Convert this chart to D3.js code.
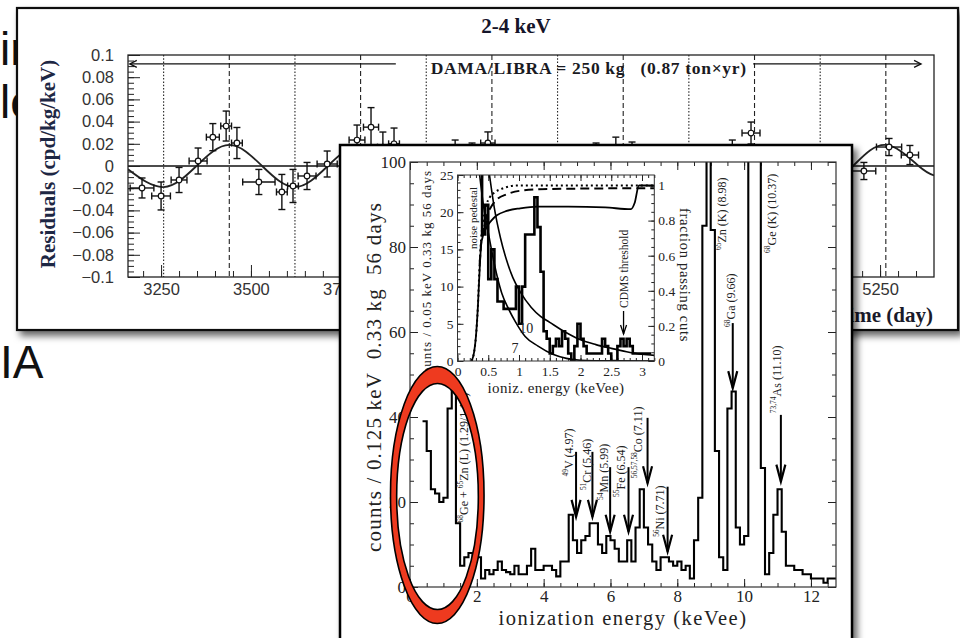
<!DOCTYPE html>
<html><head><meta charset="utf-8">
<script src="https://cdn.jsdelivr.net/npm/d3@7/dist/d3.min.js"></script>
<style>
html,body{margin:0;padding:0;background:#fff;}
svg{display:block;}
text{white-space:pre;}
</style></head>
<body>
<svg id="chart" width="960" height="638" xmlns="http://www.w3.org/2000/svg"></svg>
<script>
// ================= DATA =================
const slideText = ["ir", "lo", "IA"];

// --- DAMA/LIBRA residuals panel ---
const damaTitle = "2-4 keV";
const damaExposure = "DAMA/LIBRA = 250 kg   (0.87 ton\u00d7yr)";
const damaYLabel = "Residuals (cpd/kg/keV)";
const damaXLabel = "Time (day)";
const damaXTicks = [3250, 3500, 3750, 4000, 4250, 4500, 4750, 5000, 5250];
const damaYTicks = [-0.1, -0.08, -0.06, -0.04, -0.02, 0, 0.02, 0.04, 0.06, 0.08, 0.1];
const damaDays   = [3197, 3250, 3300, 3353, 3394, 3431, 3461, 3522, 3586, 3617, 3656, 3712, 3795, 3834, 3867, 3898, 4068, 4115, 4159, 4460, 4515, 4560, 4839, 4891, 5205, 5275, 5333];
const damaResid  = [-0.0198, -0.027, -0.0126, 0.0045, 0.026, 0.036, 0.0207, -0.0144, -0.0234, -0.018, -0.009, 0.0018, 0.0234, 0.035, 0.017, 0.02, 0.011, 0.008, 0.0207, 0.008, 0.013, 0.009, 0.011, 0.0297, -0.0045, 0.0171, 0.0099];
const damaDayErr = [33, 26, 22, 25, 18, 15, 15, 45, 15, 15, 25, 28, 22, 21, 15, 15, 20, 20, 20, 20, 15, 15, 20, 25, 33, 35, 24];
const damaResErr = [0.009, 0.0126, 0.0113, 0.0117, 0.0122, 0.0135, 0.014, 0.0113, 0.0158, 0.0149, 0.0122, 0.0117, 0.0135, 0.0176, 0.0136, 0.0142, 0.0124, 0.0127, 0.010, 0.0127, 0.013, 0.0126, 0.0124, 0.0099, 0.0077, 0.0077, 0.0086];
const damaMaxDays = [3439.75, 3805, 4170.25, 4535.5, 4900.75, 5266];
const damaMinDays = [3257.1, 3622.4, 3987.6, 4352.9, 4718.1, 5083.4];
const damaFitDays = [3158, 3257.1, 3348.4, 3439.75, 3531.1, 3622.4, 3713.7, 3805, 3896.3, 3987.6, 4078.9, 4170.25, 4261.6, 4352.9, 4444.2, 4535.5, 4626.8, 4718.1, 4809.4, 4900.75, 4992.1, 5083.4, 5174.7, 5266, 5357.3, 5400];
const damaFitVals = [-0.003, -0.019, 0, 0.019, 0, -0.019, 0, 0.019, 0, -0.019, 0, 0.019, 0, -0.019, 0, 0.019, 0, -0.019, 0, 0.019, 0, -0.019, 0, 0.019, 0, -0.0085];
const damaPeriodArrowLevel = 0.092;
const damaPeriodSpan = [3163, 5364];
const damaPeriodGap = [3903, 4897];
const damaExposureDay = 4000;

// --- CoGeNT spectrum panel ---
const specXLabel = "ionization energy (keVee)";
const specYLabel = "counts / 0.125 keV  0.33 kg  56 days";
const specXTicks = [0, 2, 4, 6, 8, 10, 12];
const specYTicks = [0, 20, 40, 60, 80, 100];
const specBinStart = 0.375, specBinWidth = 0.125;
const specCounts = [39, 32, 23, 22, 20, 21, 42, 48, 15, 5,
  7, 8, 6, 7, 2, 4, 3, 4, 6, 4,
  3.5, 3, 5, 3, 3, 5, 9, 4, 4, 5,
  5, 4, 2.5, 6, 6, 17, 11, 8, 11, 12,
  15, 15, 10, 8, 12, 11, 9, 6, 6, 11,
  6, 14, 23, 14, 10, 6, 4, 7, 7, 6,
  5, 6, 4, 5, 2, 11, 21, 85, 150, 84,
  32, 7, 4, 42, 46, 14, 10, 12, 150, 150,
  150, 28, 3, 8, 17, 23, 13, 5, 5, 4,
  4, 3, 3, 2, 2, 2, 1, 2, 2];

const lineIsotope = ["49", "51", "54", "55", "56,57,58", "56", "68", "73,74"];
const lineElement = ["V", "Cr", "Mn", "Fe", "Co", "Ni", "Ga", "As"];
const lineEnergy  = [4.97, 5.46, 5.99, 6.54, 7.11, 7.71, 9.66, 11.10];
const lineEnergyText = ["(4.97)", "(5.46)", "(5.99)", "(6.54)", "(7.11)", "(7.71)", "(9.66)", "(11.10)"];
// annotation layout (in count units) for arrows / labels
const arrowFromCount = [31.8, 31.8, 28.2, 28.2, 39.8, 23.6, 62.1, 40.5];
const arrowToCount   = [16.5, 16.5, 13.0, 13.0, 24.4, 8.3, 46.8, 24.8];
const labelBaseCount = [26.0, 22.8, 20.5, 21.2, 25.6, 11.8, 61.2, 40.9];
const labelShiftPx   = [-7, -5.7, -6.5, -8, -9.5, -7.3, -1.7, -3.7];

const kLines = [
  {parts: [["65", true], ["Zn (K) (8.98)", false]], energy: 9.33, base: 79.3},
  {parts: [["68", true], ["Ge (K) (10.37)", false]], energy: 10.82, base: 78.6},
  {parts: [["68", true], ["Ge + ", false], ["65", true], ["Zn (L) (1.29/1.10)", false]], energy: 1.63, base: 15.2}
];

// highlight ellipse (data units: keV, counts)
const ringOuter = {e: 0.816, c: 21.65, re: 1.40, rc: 30.2};
const ringInner = {e: 0.823, c: 21.3, re: 1.222, rc: 26.6};

// --- inset ---
const insetXLabel = "ioniz. energy (keVee)";
const insetYLabel = "counts / 0.05 keV 0.33 kg 56 days";
const insetY2Label = "fraction passing cuts";
const insetXTicks = [0, 0.5, 1, 1.5, 2, 2.5, 3];
const insetYTicks = [0, 5, 10, 15, 20, 25];
const insetFTicks = [0, 0.2, 0.4, 0.6, 0.8, 1];
const insetBinStart = 0.35, insetBinWidth = 0.05;
const insetCounts = [30, 17, 21, 11, 15, 11, 8, 8, 7, 7,
  7, 7, 10, 5, 10, 17, 17, 17, 22, 18,
  12, 4, 3, 1, 2, 3, 2, 4, 3, 1,
  0, 2, 5, 3, 2, 1, 1, 1, 1, 1,
  3, 2, 1, 0, 0, 2, 3, 2, 3, 2,
  1, 1, 1, 1, 1, 1];
const curve7E  = [0.36, 0.42, 0.5, 0.6, 0.72, 0.83, 0.94, 1.1, 1.31, 1.55, 1.77, 2.0, 2.5, 3.2];
const curve7C  = [25, 21, 17.3, 13, 9.1, 7.0, 5.3, 3.3, 2.0, 0.9, 0.35, 0.1, 0.02, 0];
const curve10E = [0.52, 0.6, 0.7, 0.8, 0.9, 1.02, 1.2, 1.35, 1.5, 1.75, 2.0, 2.25, 2.5, 2.75, 3.0, 3.2];
const curve10C = [25, 20.5, 16.5, 13.5, 11.2, 9.3, 7.2, 6.0, 5.2, 3.9, 2.85, 2.2, 1.7, 1.25, 0.9, 0.75];
const fracSolidE = [0.23, 0.27, 0.3, 0.33, 0.36, 0.39, 0.47, 0.55, 0.64, 0.8, 1.02, 1.3, 1.8, 2.4, 2.82, 2.88, 2.95, 3.2];
const fracSolidF = [0, 0.05, 0.14, 0.3, 0.52, 0.68, 0.76, 0.8, 0.83, 0.855, 0.87, 0.88, 0.88, 0.875, 0.865, 0.9, 1.0, 1.0];
const fracDotE = [0.23, 0.27, 0.3, 0.33, 0.36, 0.39, 0.42, 0.47, 0.52, 0.6, 0.75, 0.96, 3.2];
const fracDotF = [0, 0.05, 0.14, 0.3, 0.55, 0.72, 0.8, 0.89, 0.93, 0.96, 0.985, 1.0, 1.0];
const fracDashE = [0.36, 0.39, 0.42, 0.47, 0.55, 0.64, 0.8, 1.02, 1.5, 3.2];
const fracDashF = [0.55, 0.69, 0.74, 0.82, 0.88, 0.92, 0.95, 0.97, 0.98, 0.985];
const cdmsThresholdE = 2.7;

// ================= DRAW =================
const svg = d3.select("#chart");
const defs = svg.append("defs");
const sh = defs.append("filter").attr("id", "shadow").attr("x", -0.05).attr("y", -0.05).attr("width", 1.15).attr("height", 1.15);
sh.append("feDropShadow").attr("dx", 4).attr("dy", 5).attr("stdDeviation", 3.5).attr("flood-color", "#000").attr("flood-opacity", 0.6);

function fitWidth(sel, target) {
  const n = sel.node();
  const len = n.getComputedTextLength();
  const k = n.textContent.length;
  if (k > 1) sel.attr("letter-spacing", ((target - len) / k).toFixed(3));
  return sel;
}

// background slide text
const slide = svg.append("g").attr("font-family", "'Liberation Sans', Arial, sans-serif").attr("font-size", 46).attr("fill", "#111");
slide.append("text").attr("x", 0).attr("y", 65).text(slideText[0]);
slide.append("text").attr("x", 0).attr("y", 118).text(slideText[1]);
slide.append("text").attr("x", 0).attr("y", 378).text(slideText[2]);

function styleAxis(g, size, family, color) {
  g.select(".domain").remove();
  g.attr("font-size", null).attr("font-family", null);
  g.selectAll("line").attr("stroke", "#222").attr("stroke-width", 1);
  g.selectAll("text").attr("font-size", size).attr("font-family", family).attr("fill", color);
  return g;
}

// ---------- DAMA panel ----------
const dp = svg.append("g");
dp.append("rect").attr("x", 17).attr("y", 8).attr("width", 941).attr("height", 322)
  .attr("fill", "#fff").attr("stroke", "#111").attr("stroke-width", 2.2).attr("filter", "url(#shadow)");
const dx = d3.scaleLinear().domain([3158, 5400]).range([128, 934]);
const dy = d3.scaleLinear().domain([-0.1, 0.1]).range([277, 55]);
defs.append("clipPath").attr("id", "damaClip").append("rect").attr("x", 128).attr("y", 55).attr("width", 806).attr("height", 222);

dp.append("g").selectAll("line").data(damaMaxDays).join("line")
  .attr("x1", d => dx(d)).attr("x2", d => dx(d)).attr("y1", dy(0.1)).attr("y2", dy(-0.1))
  .attr("stroke", "#222").attr("stroke-width", 1.1).attr("stroke-dasharray", "5,3");
dp.append("g").selectAll("line").data(damaMinDays).join("line")
  .attr("x1", d => dx(d)).attr("x2", d => dx(d)).attr("y1", dy(0.1)).attr("y2", dy(-0.1))
  .attr("stroke", "#222").attr("stroke-width", 1.1).attr("stroke-dasharray", "1.5,1.8");
dp.append("line").attr("x1", dx(3158)).attr("x2", dx(5400)).attr("y1", dy(0)).attr("y2", dy(0)).attr("stroke", "#111").attr("stroke-width", 1.4);

const dSans = "'Liberation Sans', Arial, sans-serif";
styleAxis(dp.append("g").attr("transform", "translate(128,0)").call(
  d3.axisLeft(dy).tickValues(damaYTicks).tickSize(-12).tickSizeOuter(0).tickPadding(14)
    .tickFormat(d => Math.abs(d) < 1e-9 ? "0" : d3.format(".2~f")(d))), 16.5, dSans, "#333");
styleAxis(dp.append("g").attr("transform", "translate(128,0)").call(
  d3.axisLeft(dy).tickValues(d3.range(-0.1, 0.1001, 0.005)).tickSize(-6).tickSizeOuter(0).tickFormat("")), 10, dSans, "#333");
styleAxis(dp.append("g").attr("transform", "translate(0,277)").call(
  d3.axisBottom(dx).tickValues(damaXTicks).tickSize(-12).tickSizeOuter(0).tickPadding(6).tickFormat(d3.format("d"))), 16.5, dSans, "#333");
styleAxis(dp.append("g").attr("transform", "translate(0,277)").call(
  d3.axisBottom(dx).tickValues(d3.range(3200, 5400, 50)).tickSize(-6).tickSizeOuter(0).tickFormat("")), 10, dSans, "#333");
dp.append("rect").attr("x", 128).attr("y", 55).attr("width", 806).attr("height", 222).attr("fill", "none").attr("stroke", "#222").attr("stroke-width", 1.3);

const fitPts = damaFitDays.map((d, i) => [d, damaFitVals[i]]);
dp.append("path").attr("clip-path", "url(#damaClip)").attr("d", d3.line().x(d => dx(d[0])).y(d => dy(d[1])).curve(d3.curveNatural)(fitPts))
  .attr("fill", "none").attr("stroke", "#222").attr("stroke-width", 1.8);

const pts = damaDays.map((d, i) => ({d, v: damaResid[i], de: damaDayErr[i], ve: damaResErr[i]}));
const eb = dp.append("g").attr("stroke", "#111").attr("stroke-width", 1.4);
pts.forEach(p => {
  const x = dx(p.d), y = dy(p.v), y1 = dy(p.v - p.ve), y2 = dy(p.v + p.ve), x1 = dx(p.d - p.de), x2 = dx(p.d + p.de);
  eb.append("line").attr("x1", x).attr("x2", x).attr("y1", y1).attr("y2", y2);
  eb.append("line").attr("x1", x - 3.5).attr("x2", x + 3.5).attr("y1", y1).attr("y2", y1);
  eb.append("line").attr("x1", x - 3.5).attr("x2", x + 3.5).attr("y1", y2).attr("y2", y2);
  eb.append("line").attr("x1", x1).attr("x2", x2).attr("y1", y).attr("y2", y);
  eb.append("line").attr("x1", x1).attr("x2", x1).attr("y1", y - 3.5).attr("y2", y + 3.5);
  eb.append("line").attr("x1", x2).attr("x2", x2).attr("y1", y - 3.5).attr("y2", y + 3.5);
});
dp.append("g").selectAll("circle").data(pts).join("circle")
  .attr("cx", p => dx(p.d)).attr("cy", p => dy(p.v)).attr("r", 2.8)
  .attr("fill", "#fff").attr("stroke", "#111").attr("stroke-width", 1.2);

// period arrow
const ay = dy(damaPeriodArrowLevel);
const arr = dp.append("g").attr("stroke", "#111").attr("stroke-width", 1.3).attr("fill", "none");
arr.append("line").attr("x1", dx(damaPeriodSpan[0])).attr("x2", dx(damaPeriodGap[0])).attr("y1", ay).attr("y2", ay);
arr.append("path").attr("d", `M${dx(damaPeriodSpan[0]) + 7},${ay - 3.5}L${dx(damaPeriodSpan[0])},${ay}L${dx(damaPeriodSpan[0]) + 7},${ay + 3.5}`);
arr.append("line").attr("x1", dx(damaPeriodGap[1])).attr("x2", dx(damaPeriodSpan[1])).attr("y1", ay).attr("y2", ay);
arr.append("path").attr("d", `M${dx(damaPeriodSpan[1]) - 7},${ay - 3.5}L${dx(damaPeriodSpan[1])},${ay}L${dx(damaPeriodSpan[1]) - 7},${ay + 3.5}`);

const dSerif = "'Liberation Serif', 'Times New Roman', serif";
fitWidth(dp.append("text").attr("x", dx(damaExposureDay)).attr("y", ay + 10).attr("font-family", dSerif).attr("font-weight", "bold")
  .attr("font-size", 17.5).attr("fill", "#1a1a22").text(damaExposure), 316);
dp.append("text").attr("x", 516).attr("y", 33).attr("text-anchor", "middle").attr("font-family", dSerif).attr("font-weight", "bold")
  .attr("font-size", 21).attr("fill", "#15152a").text(damaTitle);
dp.append("text").attr("transform", "translate(55,164) rotate(-90)").attr("text-anchor", "middle").attr("font-family", dSerif)
  .attr("font-weight", "bold").attr("font-size", 21).attr("fill", "#1e2744").text(damaYLabel);
dp.append("text").attr("x", 933).attr("y", 322).attr("text-anchor", "end").attr("font-family", dSerif)
  .attr("font-weight", "bold").attr("font-size", 21).attr("fill", "#1a1a2a").text(damaXLabel);

// ---------- CoGeNT panel ----------
const cp = svg.append("g");
cp.append("rect").attr("x", 340).attr("y", 145).attr("width", 512).attr("height", 520)
  .attr("fill", "#fff").attr("stroke", "#000").attr("stroke-width", 2.5).attr("filter", "url(#shadow)");
const cSerif = "'Liberation Serif', 'Times New Roman', serif";
const mx = d3.scaleLinear().domain([0, 12.75]).range([410, 836]);
const my = d3.scaleLinear().domain([0, 100]).range([587, 162]);
defs.append("clipPath").attr("id", "mainClip").append("rect").attr("x", 410).attr("y", 162).attr("width", 426).attr("height", 425);

// ticks
styleAxis(cp.append("g").attr("transform", "translate(0,587)").call(
  d3.axisBottom(mx).tickValues(specXTicks).tickSize(-8).tickSizeOuter(0).tickPadding(3).tickFormat(d3.format("d"))), 17, cSerif, "#222");
styleAxis(cp.append("g").attr("transform", "translate(0,587)").call(
  d3.axisBottom(mx).tickValues(d3.range(0, 12.76, 0.5)).tickSize(-4).tickSizeOuter(0).tickFormat("")), 10, cSerif, "#222");
styleAxis(cp.append("g").attr("transform", "translate(0,162)").call(
  d3.axisTop(mx).tickValues(specXTicks).tickSize(-8).tickSizeOuter(0).tickFormat("")), 10, cSerif, "#222");
styleAxis(cp.append("g").attr("transform", "translate(0,162)").call(
  d3.axisTop(mx).tickValues(d3.range(0, 12.76, 0.5)).tickSize(-4).tickSizeOuter(0).tickFormat("")), 10, cSerif, "#222");
styleAxis(cp.append("g").attr("transform", "translate(410,0)").call(
  d3.axisLeft(my).tickValues(specYTicks).tickSize(-8).tickSizeOuter(0).tickPadding(4).tickFormat(d3.format("d"))), 17, cSerif, "#222");
styleAxis(cp.append("g").attr("transform", "translate(410,0)").call(
  d3.axisLeft(my).tickValues(d3.range(0, 101, 5)).tickSize(-4).tickSizeOuter(0).tickFormat("")), 10, cSerif, "#222");
styleAxis(cp.append("g").attr("transform", "translate(836,0)").call(
  d3.axisRight(my).tickValues(specYTicks).tickSize(-8).tickSizeOuter(0).tickFormat("")), 10, cSerif, "#222");
styleAxis(cp.append("g").attr("transform", "translate(836,0)").call(
  d3.axisRight(my).tickValues(d3.range(0, 101, 5)).tickSize(-4).tickSizeOuter(0).tickFormat("")), 10, cSerif, "#222");

// histogram
const specPts = specCounts.map((c, i) => [specBinStart + i * specBinWidth, c]);
specPts.push([specBinStart + specCounts.length * specBinWidth, specCounts[specCounts.length - 1]]);
cp.append("path").attr("clip-path", "url(#mainClip)")
  .attr("d", d3.line().x(d => mx(d[0])).y(d => my(d[1])).curve(d3.curveStepAfter)(specPts))
  .attr("fill", "none").attr("stroke", "#000").attr("stroke-width", 2.1);
cp.append("rect").attr("x", 410).attr("y", 162).attr("width", 426).attr("height", 425).attr("fill", "none").attr("stroke", "#333").attr("stroke-width", 1.2);

// axis labels
fitWidth(cp.append("text").attr("transform", "translate(381,377) rotate(-90)").attr("text-anchor", "middle")
  .attr("font-family", cSerif).attr("font-size", 21).attr("fill", "#222").text(specYLabel), 350);
fitWidth(cp.append("text").attr("x", 623).attr("y", 625).attr("text-anchor", "middle")
  .attr("font-family", cSerif).attr("font-size", 20.5).attr("fill", "#222").text(specXLabel), 249);

function rotLabel(g, x, y, parts, size, anchor, rot, color) {
  const t = g.append("text").attr("transform", `translate(${x},${y}) rotate(${rot})`)
    .attr("text-anchor", anchor).attr("font-family", cSerif).attr("font-size", size).attr("fill", color || "#222");
  let cur = 0;
  parts.forEach(([s, sup]) => {
    const ts = t.append("tspan").text(s);
    if (sup) { const target = -size * 0.42; ts.attr("font-size", size * 0.62).attr("dy", target - cur); cur = target; }
    else { ts.attr("dy", -cur); cur = 0; }
  });
  return t;
}
// peak labels with arrows
const ann = cp.append("g");
lineEnergy.forEach((e, i) => {
  const x = mx(e);
  const yf = my(arrowFromCount[i]), yt = my(arrowToCount[i]);
  ann.append("line").attr("x1", x).attr("x2", x).attr("y1", yf).attr("y2", yt).attr("stroke", "#000").attr("stroke-width", 2);
  ann.append("path").attr("d", `M${x - 4.5},${yt - 17}L${x},${yt}L${x + 4.5},${yt - 17}`).attr("fill", "none").attr("stroke", "#000").attr("stroke-width", 2.2);
  rotLabel(ann, x + labelShiftPx[i] + 4, my(labelBaseCount[i]),
    [[lineIsotope[i], true], [lineElement[i] + " " + lineEnergyText[i], false]], 12, "start", -90);
});
kLines.forEach(k => rotLabel(ann, mx(k.energy) + 4, my(k.base), k.parts, 12, "start", -90));

// ---------- inset ----------
const ix = d3.scaleLinear().domain([0, 3.2]).range([457.5, 654.3]);
const iy = d3.scaleLinear().domain([0, 25]).range([361, 175]);
const ifr = d3.scaleLinear().domain([0, 1]).range([361, 185.5]);
const ins = cp.append("g");
defs.append("clipPath").attr("id", "insetClip").append("rect").attr("x", 457.5).attr("y", 175).attr("width", 196.8).attr("height", 186);

styleAxis(ins.append("g").attr("transform", "translate(0,361)").call(
  d3.axisBottom(ix).tickValues(insetXTicks).tickSize(-6).tickSizeOuter(0).tickPadding(5).tickFormat(d3.format("~g"))), 13.5, cSerif, "#222");
styleAxis(ins.append("g").attr("transform", "translate(0,361)").call(
  d3.axisBottom(ix).tickValues(d3.range(0, 3.21, 0.1)).tickSize(-3).tickSizeOuter(0).tickFormat("")), 10, cSerif, "#222");
styleAxis(ins.append("g").attr("transform", "translate(0,175)").call(
  d3.axisTop(ix).tickValues(insetXTicks).tickSize(-6).tickSizeOuter(0).tickFormat("")), 10, cSerif, "#222");
styleAxis(ins.append("g").attr("transform", "translate(0,175)").call(
  d3.axisTop(ix).tickValues(d3.range(0, 3.21, 0.1)).tickSize(-3).tickSizeOuter(0).tickFormat("")), 10, cSerif, "#222");
styleAxis(ins.append("g").attr("transform", "translate(457.5,0)").call(
  d3.axisLeft(iy).tickValues(insetYTicks).tickSize(-6).tickSizeOuter(0).tickPadding(4).tickFormat(d3.format("d"))), 13.5, cSerif, "#222");
styleAxis(ins.append("g").attr("transform", "translate(457.5,0)").call(
  d3.axisLeft(iy).tickValues(d3.range(0, 25.1, 1)).tickSize(-3).tickSizeOuter(0).tickFormat("")), 10, cSerif, "#222");
styleAxis(ins.append("g").attr("transform", "translate(654.3,0)").call(
  d3.axisRight(ifr).tickValues(insetFTicks).tickSize(-6).tickSizeOuter(0).tickPadding(4).tickFormat(d3.format("~g"))), 13.5, cSerif, "#222");
styleAxis(ins.append("g").attr("transform", "translate(654.3,0)").call(
  d3.axisRight(ifr).tickValues(d3.range(0, 1.001, 0.05)).tickSize(-3).tickSizeOuter(0).tickFormat("")), 10, cSerif, "#222");

const insetPts = insetCounts.map((c, i) => [insetBinStart + i * insetBinWidth, c]);
insetPts.push([insetBinStart + insetCounts.length * insetBinWidth, insetCounts[insetCounts.length - 1]]);
const ic = ins.append("g").attr("clip-path", "url(#insetClip)");
const lineC = d3.line().x(d => ix(d[0])).y(d => iy(d[1])).curve(d3.curveMonotoneX);
const lineF = d3.line().x(d => ix(d[0])).y(d => ifr(d[1])).curve(d3.curveMonotoneX);
ic.append("path").attr("d", lineC(curve7E.map((e, i) => [e, curve7C[i]]))).attr("fill", "none").attr("stroke", "#000").attr("stroke-width", 1.6);
ic.append("path").attr("d", lineC(curve10E.map((e, i) => [e, curve10C[i]]))).attr("fill", "none").attr("stroke", "#000").attr("stroke-width", 1.6);
ic.append("path").attr("d", lineF(fracDotE.map((e, i) => [e, fracDotF[i]]))).attr("fill", "none").attr("stroke", "#000").attr("stroke-width", 2).attr("stroke-dasharray", "2,3");
ic.append("path").attr("d", lineF(fracDashE.map((e, i) => [e, fracDashF[i]]))).attr("fill", "none").attr("stroke", "#000").attr("stroke-width", 2).attr("stroke-dasharray", "9,5");
ic.append("path").attr("d", lineF(fracSolidE.map((e, i) => [e, fracSolidF[i]]))).attr("fill", "none").attr("stroke", "#000").attr("stroke-width", 1.8);
ic.append("path").attr("d", d3.line().x(d => ix(d[0])).y(d => iy(d[1])).curve(d3.curveStepAfter)(insetPts))
  .attr("fill", "none").attr("stroke", "#000").attr("stroke-width", 2.6);
ins.append("rect").attr("x", 457.5).attr("y", 175).attr("width", 196.8).attr("height", 186).attr("fill", "none").attr("stroke", "#333").attr("stroke-width", 1);

// inset texts
ins.append("text").attr("x", ix(1.1) - 6).attr("y", 333).attr("font-family", cSerif).attr("font-size", 14).attr("fill", "#222").text("10");
ins.append("text").attr("x", ix(0.88)).attr("y", 353).attr("font-family", cSerif).attr("font-size", 14).attr("fill", "#222").text("7");
rotLabel(ins, 477, 218, [["noise pedestal", false]], 11, "middle", -90);
rotLabel(ins, 628, 308, [["CDMS threshold", false]], 11.5, "start", -90);
const cx0 = ix(cdmsThresholdE);
ins.append("line").attr("x1", cx0).attr("x2", cx0).attr("y1", 311).attr("y2", 334).attr("stroke", "#000").attr("stroke-width", 1.3);
ins.append("path").attr("d", `M${cx0 - 3},${334 - 9}L${cx0},${334}L${cx0 + 3},${334 - 9}`).attr("fill", "none").attr("stroke", "#000").attr("stroke-width", 1.3);
fitWidth(ins.append("text").attr("x", (ix(0) + ix(3.2)) / 2).attr("y", 393).attr("text-anchor", "middle")
  .attr("font-family", cSerif).attr("font-size", 15).attr("fill", "#222").text(insetXLabel), 137);
fitWidth(ins.append("text").attr("transform", "translate(431,170) rotate(-90)").attr("text-anchor", "end")
  .attr("font-family", cSerif).attr("font-size", 13).attr("fill", "#222").text(insetYLabel), 211);
fitWidth(ins.append("text").attr("transform", "translate(680,275) rotate(90)").attr("text-anchor", "middle")
  .attr("font-family", cSerif).attr("font-size", 14.5).attr("fill", "#222").text(insetY2Label), 134);

// ---------- red highlight ring ----------
function ellPath(o) {
  const cx = mx(o.e), cy = my(o.c), rx = mx(o.e + o.re) - mx(o.e), ry = my(o.c) - my(o.c + o.rc);
  return `M${cx - rx},${cy}a${rx},${ry} 0 1,0 ${2 * rx},0a${rx},${ry} 0 1,0 ${-2 * rx},0Z`;
}
svg.append("path").attr("d", ellPath(ringOuter) + ellPath(ringInner)).attr("fill-rule", "evenodd")
  .attr("fill", "#ee3a1f").attr("stroke", "#000").attr("stroke-width", 1.6);
</script>
</body></html>
